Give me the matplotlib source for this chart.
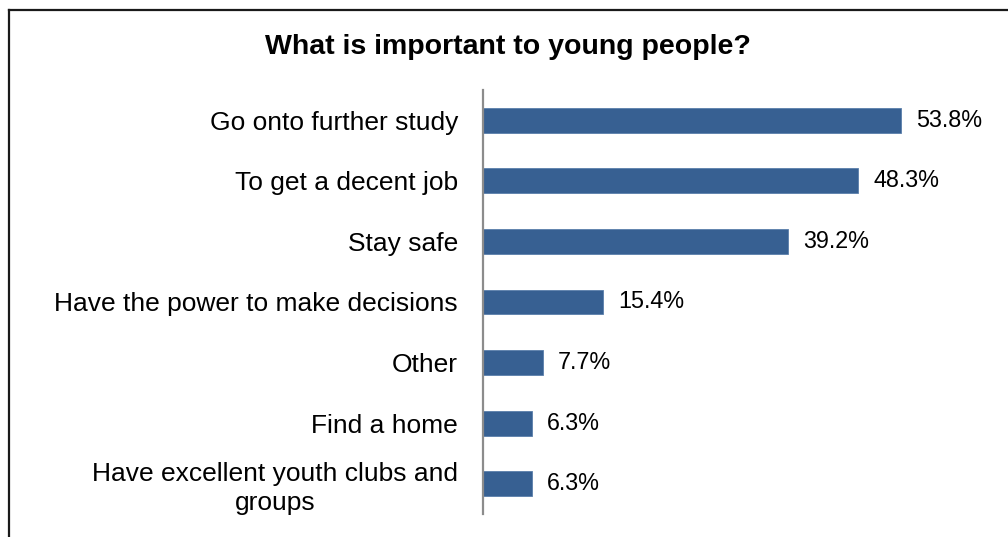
import numpy as np
import matplotlib.pyplot as plt
from matplotlib.lines import Line2D

# chart data, top to bottom
categories = ['Go onto further study', 'To get a decent job', 'Stay safe',
              'Have the power to make decisions', 'Other', 'Find a home',
              'Have excellent youth clubs and\ngroups']
values = [53.8, 48.3, 39.2, 15.4, 7.7, 6.3, 6.3]
value_labels = ['53.8%', '48.3%', '39.2%', '15.4%', '7.7%', '6.3%', '6.3%']

plt.rcParams['font.family'] = ['Liberation Sans', 'DejaVu Sans']

W, H = 1008, 537
fig = plt.figure(figsize=(W / 100, H / 100), dpi=100)

# axes placed in pixel terms
ax = fig.add_axes([483 / W, 23 / H, 517 / W, 424 / H])

y = np.arange(len(categories))
bars = ax.barh(y, values, height=0.41, color='#376092',
               edgecolor='#5a7fab', linewidth=0.6)

ax.set_ylim(len(categories) - 0.5, -0.5)
ax.set_xlim(0, 517 / 7.77)

ax.set_yticks(y)
ax.set_yticklabels(categories, fontsize=19, linespacing=1.25)
ax.set_xticks([])

# wrapped label lines are centred on each other
for lbl in ax.get_yticklabels():
    lbl.set_multialignment('center')
ax.tick_params(axis='y', length=0, pad=18)

for s in ['top', 'right', 'bottom']:
    ax.spines[s].set_visible(False)
ax.spines['left'].set_color('#8c8c8c')
ax.spines['left'].set_linewidth(1.6)

# value labels
for b, lab in zip(bars, value_labels):
    ax.annotate(lab, (b.get_width(), b.get_y() + b.get_height() / 2),
                xytext=(11, 0), textcoords='offset points',
                va='center', ha='left', fontsize=16.8)

fig.text(508 / W, 1 - 54 / H, 'What is important to young people?',
         ha='center', va='baseline', fontsize=20.5, fontweight='bold')

# chart frame (only top and left edges visible)
fig.add_artist(Line2D([9 / W, 1.0], [1 - 10 / H, 1 - 10 / H],
                      transform=fig.transFigure, color='#1a1a1a', linewidth=1.6))
fig.add_artist(Line2D([9 / W, 9 / W], [0.0, 1 - 10 / H],
                      transform=fig.transFigure, color='#1a1a1a', linewidth=1.6))

fig.savefig('out.png', dpi=100)
